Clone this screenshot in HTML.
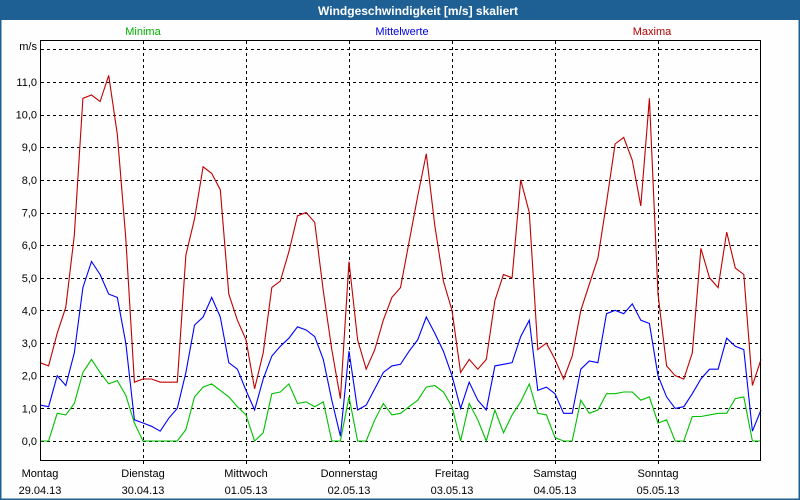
<!DOCTYPE html>
<html><head><meta charset="utf-8"><style>
html,body{margin:0;padding:0;background:#fff}
#wrap{position:relative;width:800px;height:500px;overflow:hidden;font-family:"Liberation Sans",sans-serif}
svg text{font-family:"Liberation Sans",sans-serif}
</style></head><body>
<div id="wrap">
<svg id="chart" width="800" height="500" viewBox="0 0 800 500">
<rect x="0" y="0" width="800" height="500" fill="#fdfefd"/>
<rect x="0" y="0" width="800" height="20" fill="#1e6094"/>
<rect x="0.5" y="0.5" width="799" height="499" fill="none" stroke="#1e6094" stroke-width="2"/>
<text x="418" y="15" text-anchor="middle" fill="#fff" font-size="12" font-weight="bold">Windgeschwindigkeit [m/s] skaliert</text>
<text x="143" y="35" text-anchor="middle" fill="#00b000" font-size="11">Minima</text>
<text x="402" y="35" text-anchor="middle" fill="#0000e0" font-size="11">Mittelwerte</text>
<text x="652" y="35" text-anchor="middle" fill="#b00000" font-size="11">Maxima</text>
<text x="37" y="50" text-anchor="end" fill="#000" font-size="11">m/s</text>
<g id="grid"></g>
<g id="ylabels"></g>
<g id="xlabels"></g>
<g id="series"></g>
<rect x="40.5" y="40.5" width="720" height="420" fill="none" stroke="#000" stroke-width="1"/>
</svg>
</div>
<script>
const yTicks = [0,1,2,3,4,5,6,7,8,9,10,11,12];
const yTickLabels = ["0,0","1,0","2,0","3,0","4,0","5,0","6,0","7,0","8,0","9,0","10,0","11,0",""];
const dayNames = ["Montag","Dienstag","Mittwoch","Donnerstag","Freitag","Samstag","Sonntag"];
const dayDates = ["29.04.13","30.04.13","01.05.13","02.05.13","03.05.13","04.05.13","05.05.13"];
const maxima = [2.4,2.3,3.3,4.1,6.3,10.5,10.6,10.4,11.2,9.4,6.2,1.8,1.9,1.9,1.8,1.8,1.8,5.7,6.8,8.4,8.2,7.7,4.5,3.7,3.1,1.6,2.7,4.7,4.9,5.8,6.9,7.0,6.7,4.6,2.8,1.3,5.5,3.1,2.2,2.8,3.7,4.4,4.7,6.1,7.5,8.8,6.6,4.9,4.0,2.1,2.5,2.2,2.5,4.3,5.1,5.0,8.0,7.0,2.8,3.0,2.5,1.9,2.6,4.0,4.8,5.6,7.3,9.1,9.3,8.6,7.2,10.5,4.5,2.3,2.0,1.9,2.7,5.9,5.0,4.7,6.4,5.3,5.1,1.7,2.5];
const mittel = [1.1,1.05,2.0,1.7,2.7,4.7,5.5,5.1,4.5,4.4,3.0,0.65,0.55,0.45,0.3,0.7,1.0,2.1,3.55,3.8,4.4,3.8,2.4,2.2,1.55,0.95,1.9,2.6,2.9,3.15,3.5,3.4,3.2,2.5,1.25,0.15,2.75,0.95,1.1,1.6,2.1,2.3,2.35,2.75,3.1,3.8,3.3,2.75,2.0,1.0,1.8,1.25,0.95,2.3,2.35,2.4,3.2,3.7,1.55,1.65,1.45,0.85,0.85,2.2,2.45,2.4,3.9,4.0,3.9,4.2,3.7,3.6,2.0,1.35,1.0,1.05,1.45,1.9,2.2,2.2,3.15,2.9,2.8,0.3,0.95];
const minima = [0,0,0.85,0.8,1.15,2.1,2.5,2.1,1.75,1.85,1.4,0.55,0,0,0,0,0,0.35,1.35,1.65,1.75,1.55,1.35,1.05,0.8,0,0.25,1.45,1.5,1.75,1.15,1.2,1.05,1.2,0,0,1.35,0,0,0.65,1.15,0.8,0.85,1.05,1.25,1.65,1.7,1.5,1.05,0,1.15,0.65,0,0.95,0.25,0.8,1.2,1.75,0.85,0.8,0.1,0,0,1.25,0.85,0.95,1.45,1.45,1.5,1.5,1.25,1.35,0.55,0.65,0,0,0.75,0.75,0.8,0.85,0.85,1.3,1.35,0,0];

const NS = "http://www.w3.org/2000/svg";
const X0 = 40, DAYW = 103, STEP = DAYW/12;
function xDay(d){ return X0 + d*DAYW; }
function xIdx(i){ return X0 + i*STEP; }
function yVal(v){ return 441 - v*32.64; }

const grid = document.getElementById('grid');
yTicks.forEach(t=>{
  const l = document.createElementNS(NS,'line');
  l.setAttribute('x1',41); l.setAttribute('x2',760);
  l.setAttribute('y1',Math.round(yVal(t))+0.5); l.setAttribute('y2',Math.round(yVal(t))+0.5);
  l.setAttribute('stroke','#000'); l.setAttribute('stroke-dasharray','3,3');
  
  
  grid.appendChild(l);
});
for(let d=1; d<dayNames.length; d++){
  const l = document.createElementNS(NS,'line');
  const x = Math.round(xDay(d))+0.5;
  l.setAttribute('x1',x); l.setAttribute('x2',x);
  l.setAttribute('y1',41); l.setAttribute('y2',467);
  l.setAttribute('stroke','#000'); l.setAttribute('stroke-dasharray','3,3');
  
  
  grid.appendChild(l);
}
const yl = document.getElementById('ylabels');
yTicks.forEach((t,k)=>{
  if(!yTickLabels[k]) return;
  const tx = document.createElementNS(NS,'text');
  tx.setAttribute('x',37); tx.setAttribute('y',yVal(t)+4);
  tx.setAttribute('text-anchor','end'); tx.setAttribute('font-size','11');
  tx.textContent = yTickLabels[k];
  
  
  yl.appendChild(tx);
});
const xl = document.getElementById('xlabels');
dayNames.forEach((n,d)=>{
  const t1 = document.createElementNS(NS,'text');
  t1.setAttribute('x',xDay(d)); t1.setAttribute('y',477);
  t1.setAttribute('text-anchor','middle'); t1.setAttribute('font-size','11');
  t1.textContent = n;
  
  
  xl.appendChild(t1);
  const t2 = document.createElementNS(NS,'text');
  t2.setAttribute('x',xDay(d)); t2.setAttribute('y',494);
  t2.setAttribute('text-anchor','middle'); t2.setAttribute('font-size','11');
  t2.textContent = dayDates[d];
  
  
  xl.appendChild(t2);
});
const sg = document.getElementById('series');
function drawLine(arr,color,name){
  const p = document.createElementNS(NS,'polyline');
  p.setAttribute('points', arr.map((v,i)=>xIdx(i).toFixed(1)+','+yVal(v).toFixed(1)).join(' '));
  p.setAttribute('fill','none'); p.setAttribute('stroke',color); p.setAttribute('stroke-width','1.1');
  
  
  sg.appendChild(p);
}
drawLine(minima,'#00c000','minima-line');
drawLine(mittel,'#0000ff','mittelwerte-line');
drawLine(maxima,'#c00000','maxima-line');
</script>
</body></html>
